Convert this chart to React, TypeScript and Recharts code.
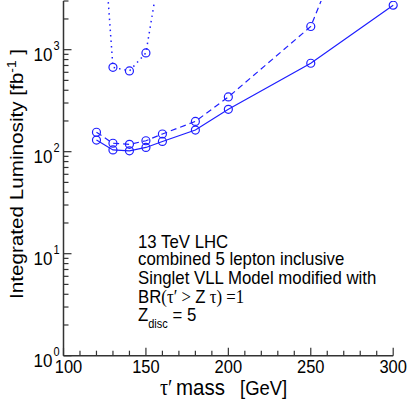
import React from 'react';
import { LineChart, Line, XAxis, YAxis, Customized } from 'recharts';

const masses = [120, 130, 140, 150, 160, 180, 200, 250, 300];
const solidLumi = [130, 104, 102, 110, 126, 163, 260, 736, 2730];
const dashedLumi = [155, 121, 118, 128, 149, 198, 344, 1687, 170000];
const dottedLumi: (number | null)[] = [120000, 672, 619, 930, 8700, null, null, null, null];

const xTicks = [100, 110, 120, 130, 140, 150, 160, 170, 180, 190, 200, 210, 220, 230, 240, 250, 260, 270, 280, 290, 300];
const xMajor = [100, 150, 200, 250, 300];
const yTicks = [1, 2, 3, 4, 5, 6, 7, 8, 9, 10, 20, 30, 40, 50, 60, 70, 80, 90, 100, 200, 300, 400, 500, 600, 700, 800, 900, 1000, 2000, 3000];
const yMajor = [1, 10, 100, 1000];
const annotationLines = ['13 TeV LHC', 'combined 5 lepton inclusive', 'Singlet VLL Model modified with'];

const data = masses.map((m, i) => ({ m, solid: solidLumi[i], dashed: dashedLumi[i], dotted: dottedLumi[i] }));

const BLUE = '#1f1fff';
const FRAME = '#333';
const SANS = '"Liberation Sans", Arial, Helvetica, sans-serif';
const SERIF = '"Liberation Serif", "Times New Roman", serif';
const VS = 1.12;

const BottomTick = (props: any) => {
  const { x, y, payload } = props;
  const v = payload.value;
  const major = xMajor.includes(v);
  const dx = v === 100 ? 5 : 0;
  return (
    <g>
      <line x1={x} x2={x} y1={y} y2={y - (major ? 8 : 5)} stroke={FRAME} strokeWidth={1.2} />
      {major && (
        <text transform={`translate(${x + dx},${y + 17.5}) scale(1,${VS})`} textAnchor="middle" fontFamily={SANS} fontSize={16.5} fill="#000">
          {v}
        </text>
      )}
    </g>
  );
};

const TopTick = (props: any) => {
  const { x, y, payload } = props;
  const major = xMajor.includes(payload.value);
  return <line x1={x} x2={x} y1={y} y2={y + (major ? 8 : 5)} stroke={FRAME} strokeWidth={1.2} />;
};

const LeftTick = (props: any) => {
  const { x, y, payload } = props;
  const v = payload.value;
  const major = yMajor.includes(v);
  const exp = Math.round(Math.log10(v));
  return (
    <g>
      <line x1={x} x2={x + (major ? 8 : 5)} y1={y} y2={y} stroke={FRAME} strokeWidth={1.2} />
      {major && (
        <g>
          <text transform={`translate(${x - 11},${y + 11}) scale(1,${VS})`} textAnchor="end" fontFamily={SANS} fontSize={17} fill="#000">
            10
          </text>
          <text transform={`translate(${x - 10},${y + 0.5}) scale(1,${VS})`} textAnchor="start" fontFamily={SANS} fontSize={11} fill="#000">
            {exp}
          </text>
        </g>
      )}
    </g>
  );
};

const RightTick = (props: any) => {
  const { x, y, payload } = props;
  const major = yMajor.includes(payload.value);
  return <line x1={x} x2={x - (major ? 8 : 5)} y1={y} y2={y} stroke={FRAME} strokeWidth={1.2} />;
};

const Texts = () => (
  <g>
    <text transform={`translate(23,174) rotate(-90) scale(1.15,1)`} textAnchor="middle" fontFamily={SANS} fontSize={18} fill="#000">
      Integrated Luminosity [fb
      <tspan dy={-7} fontSize={12}>-1</tspan>
      <tspan dy={7}> ]</tspan>
    </text>
    <g transform={`translate(0,395) scale(1,${VS})`}>
      <text x={160} y={0} fontFamily={SERIF} fontSize={20} fill="#000">τ′</text>
      <text x={176} y={0} fontFamily={SANS} fontSize={20.5} fill="#000">mass</text>
      <text x={240} y={0} fontFamily={SANS} fontSize={18.5} fill="#000">[GeV]</text>
    </g>
    {annotationLines.map((t, i) => (
      <text key={t} transform={`translate(138,${[248, 264.5, 284][i]}) scale(1,${VS})`} fontFamily={SANS} fontSize={16.8} fill="#000">
        {t}
      </text>
    ))}
    <text transform={`translate(138,303) scale(1,${VS})`} fontSize={16.8} fill="#000">
      <tspan fontFamily={SANS}>BR</tspan>
      <tspan fontFamily={SERIF}>(τ′ &gt; </tspan>
      <tspan fontFamily={SANS}>Z</tspan>
      <tspan fontFamily={SERIF}> τ) =1</tspan>
    </text>
    <text transform={`translate(138,321) scale(1,${VS})`} fontFamily={SANS} fontSize={16.8} fill="#000">
      Z
      <tspan dy={6} fontSize={11}>disc</tspan>
      <tspan dy={-6}> = 5</tspan>
    </text>
  </g>
);

export default function App() {
  return (
    <div style={{ position: 'absolute', left: 0, top: 0 }}>
      <LineChart width={409} height={400} data={data} margin={{ top: 1, right: 15.8, bottom: 0, left: 0 }}>
        <XAxis
          xAxisId="b"
          dataKey="m"
          type="number"
          domain={[100, 300]}
          ticks={xTicks}
          interval={0}
          orientation="bottom"
          height={44.3}
          tickSize={0}
          tickMargin={0}
          tickLine={false}
          axisLine={{ stroke: FRAME, strokeWidth: 1.5 }}
          tick={<BottomTick />}
        />
        <XAxis
          xAxisId="t"
          dataKey="m"
          type="number"
          domain={[100, 300]}
          ticks={xTicks}
          interval={0}
          orientation="top"
          height={0}
          tickSize={0}
          tickMargin={0}
          tickLine={false}
          axisLine={{ stroke: FRAME, strokeWidth: 1.5 }}
          tick={<TopTick />}
        />
        <YAxis
          yAxisId="l"
          type="number"
          scale="log"
          domain={[1, 3000]}
          allowDataOverflow
          ticks={yTicks}
          interval={0}
          orientation="left"
          width={63.5}
          tickSize={0}
          tickMargin={0}
          tickLine={false}
          axisLine={{ stroke: FRAME, strokeWidth: 1.5 }}
          tick={<LeftTick />}
        />
        <YAxis
          yAxisId="r"
          type="number"
          scale="log"
          domain={[1, 3000]}
          allowDataOverflow
          ticks={yTicks}
          interval={0}
          orientation="right"
          width={0}
          tickSize={0}
          tickMargin={0}
          tickLine={false}
          axisLine={{ stroke: FRAME, strokeWidth: 1.5 }}
          tick={<RightTick />}
        />
        <Line xAxisId="b" yAxisId="l" dataKey="solid" stroke={BLUE} strokeWidth={1.2} dot={{ r: 4, stroke: BLUE, strokeWidth: 1.2, fill: 'none' }} isAnimationActive={false} />
        <Line xAxisId="b" yAxisId="l" dataKey="dashed" stroke={BLUE} strokeWidth={1.2} strokeDasharray="6 4" dot={{ r: 4, stroke: BLUE, strokeWidth: 1.2, fill: 'none', strokeDasharray: '' }} isAnimationActive={false} />
        <Line xAxisId="b" yAxisId="l" dataKey="dotted" stroke={BLUE} strokeWidth={1.5} strokeDasharray="1.5 4" dot={{ r: 4, stroke: BLUE, strokeWidth: 1.2, fill: 'none', strokeDasharray: '' }} isAnimationActive={false} />
        <Customized component={Texts} />
      </LineChart>
    </div>
  );
}
